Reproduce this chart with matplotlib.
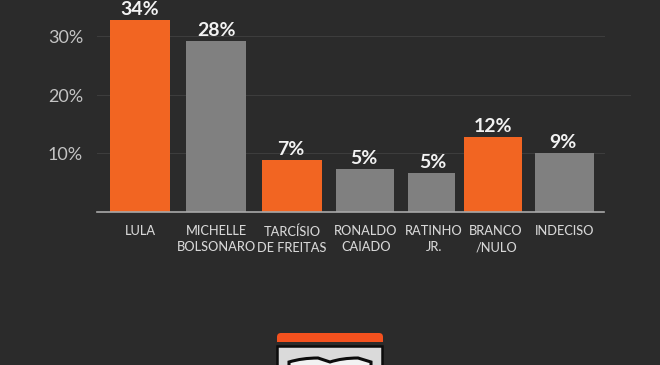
import matplotlib
matplotlib.use("Agg")
import matplotlib.pyplot as plt
from matplotlib.patches import FancyBboxPatch, PathPatch, Rectangle
from matplotlib.path import Path

plt.rcParams['font.family'] = ['Lato', 'DejaVu Sans']

categories = ["LULA", "MICHELLE\nBOLSONARO", "TARCÍSIO\nDE FREITAS", "RONALDO\nCAIADO", "RATINHO\nJR.", "BRANCO\n/NULO", "INDECISO"]
bar_heights = [32.8, 29.3, 8.9, 7.35, 6.7, 12.8, 10.1]
value_labels = ["34%", "28%", "7%", "5%", "5%", "12%", "9%"]
y_ticks = [10, 20, 30]
y_tick_labels = ["10%", "20%", "30%"]

# the bars are not evenly spaced in the picture, x scale is in pixels
bar_x = [140, 216, 292, 365, 431.5, 493, 564.5]
bar_w = [60, 60, 60, 58, 47, 58, 59]
label_x = [140, 216, 292, 366, 434, 496, 565]
value_x = [140, 216, 291, 364, 433, 493, 563]

bg = "#2b2b2b"
orange = "#f26522"
grey = "#808080"
highlight = [0, 2, 5]
colors = [orange if i in highlight else grey for i in range(len(categories))]

W, H = 660, 365
fig = plt.figure(figsize=(W / 100, H / 100), dpi=100, facecolor=bg)
ax = fig.add_axes([97 / W, 1 - 212 / H, (604 - 97) / W, 212 / H], facecolor="none")
ax.set_xlim(97, 604)
ax.set_ylim(0, 212 / 5.85)

ax.bar(bar_x, bar_heights, width=bar_w, color=colors, zorder=3)
for y in y_ticks:
    ax.plot([97, 630 if y == 20 else 604], [y, y], color="#3d3d3d", lw=0.8, zorder=1, clip_on=False)

for x, h, t in zip(value_x, bar_heights, value_labels):
    ax.annotate(t, (x, h), xytext=(0, 1.5), textcoords="offset points", ha="center", va="bottom",
                color="#f2f2f2", fontsize=14, fontweight="bold", annotation_clip=False)

ax.set_yticks(y_ticks)
ax.set_yticklabels(y_tick_labels, color="#c4c4c4", fontsize=13)
ax.set_xticks(label_x)
ax.set_xticklabels(categories, color="#d6d6d6", fontsize=9.2, fontweight="medium", linespacing=1.42, va="top")
ax.tick_params(axis="both", length=0)
ax.tick_params(axis="x", pad=9.5)
ax.tick_params(axis="y", pad=10)
for s in ["top", "right", "left"]:
    ax.spines[s].set_visible(False)
ax.spines["bottom"].set_color("#a8a8a8")
ax.spines["bottom"].set_linewidth(1.2)
ax.spines["bottom"].set_zorder(4)

# logo at the bottom, cut off by the image edge
logo = fig.add_axes([0, 0, 1, 1], facecolor="none")
logo.set_xlim(0, W)
logo.set_ylim(H, 0)
logo.axis("off")
logo.add_patch(FancyBboxPatch((277, 333), 106, 14, boxstyle="round,pad=0,rounding_size=4", fc="#f4511e", ec="none"))
logo.add_patch(Rectangle((277, 342), 106, 30, fc=bg, ec="none"))
logo.add_patch(Rectangle((277, 346), 105, 25, fc="#dadada", ec="#0c0c0c", lw=1.8))
book = Path([(289, 372), (289, 362), (302, 358), (318, 358), (330, 362), (342, 358), (358, 358), (371, 362), (371, 372)],
            [Path.MOVETO, Path.LINETO, Path.CURVE3, Path.CURVE3, Path.LINETO, Path.CURVE3, Path.CURVE3, Path.LINETO, Path.LINETO])
logo.add_patch(PathPatch(book, fc="#f2f2f2", ec="#0c0c0c", lw=2.2))

fig.savefig("out.png", dpi=100, facecolor=bg)
